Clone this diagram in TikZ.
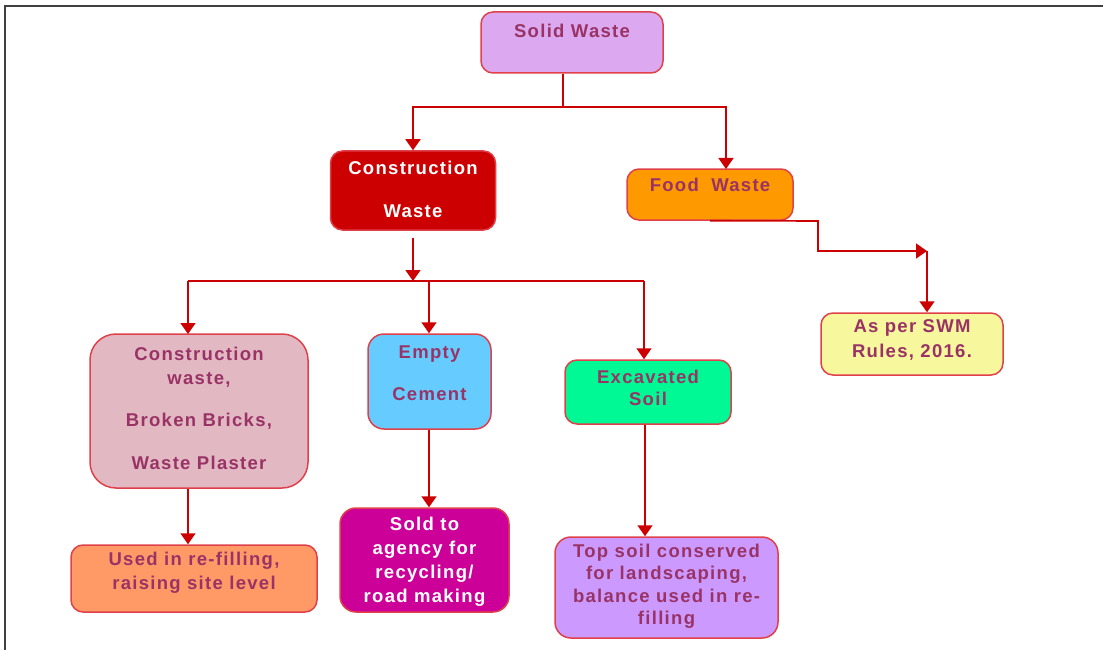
\documentclass[tikz,border=0pt]{standalone}
\usepackage{fontspec}
\setmainfont{Liberation Sans}[LetterSpace=7]
\usetikzlibrary{arrows.meta}
\definecolor{txtc}{HTML}{993366}
\definecolor{edgec}{HTML}{E0404A}
\definecolor{arrc}{HTML}{CC0000}
\definecolor{cSW}{HTML}{DCA8EF}
\definecolor{cCW}{HTML}{CC0000}
\definecolor{cFW}{HTML}{FF9900}
\definecolor{cPB}{HTML}{E2B8C2}
\definecolor{cEC}{HTML}{66CCFF}
\definecolor{cES}{HTML}{00F994}
\definecolor{cSWM}{HTML}{F7F79E}
\definecolor{cUR}{HTML}{FF9966}
\definecolor{cSO}{HTML}{CC0099}
\definecolor{cTS}{HTML}{CC99FF}
\definecolor{framec}{HTML}{404040}
\tikzset{
  box/.style={draw=edgec, line width=1.5pt, rounded corners=12pt, inner sep=0pt},
  txt/.style={font=\fontsize{18.5pt}{#1}\selectfont\bfseries, text=txtc, align=center, inner sep=0pt},
  wtxt/.style={txt=#1, text=white},
  conn/.style={draw=arrc, line width=1.6pt},
  arr/.style={conn, -{Triangle[width=15pt,length=11pt]}},
}
\begin{document}
\begin{tikzpicture}[x=1pt,y=-1pt]
\useasboundingbox (0,0) rectangle (1103,650);
\draw[framec, line width=2pt] (5,650) -- (5,6) -- (1103,6);

% boxes
\node[box, fill=cSW, minimum width=182pt, minimum height=61pt] (sw) at (572,42.5) {};
\node[box, fill=cCW, minimum width=165pt, minimum height=79pt] (cw) at (413,190.5) {};
\node[box, fill=cFW, minimum width=166pt, minimum height=51pt] (fw) at (710,194.5) {};
\node[box, fill=cPB, rounded corners=26pt, minimum width=218pt, minimum height=154pt] (pb) at (199,411) {};
\node[box, fill=cEC, rounded corners=16pt, minimum width=123pt, minimum height=95pt] (ec) at (429.5,381.5) {};
\node[box, fill=cES, minimum width=166pt, minimum height=64pt] (es) at (648,392) {};
\node[box, fill=cSWM, minimum width=182pt, minimum height=62pt] (swm) at (912,344) {};
\node[box, fill=cUR, minimum width=246pt, minimum height=67pt] (ur) at (194,578.5) {};
\node[box, fill=cSO, rounded corners=16pt, minimum width=169pt, minimum height=104pt] (so) at (424.5,560) {};
\node[box, fill=cTS, rounded corners=16pt, minimum width=223pt, minimum height=101pt] (ts) at (666.5,587.5) {};

% texts
\node[txt=24pt] (swt) at (572,31) {Solid Waste};
\node[wtxt=43pt] (cwt) at (413,189.5) {Construction\\Waste};
\node[txt=24pt] (fwt) at (710,185) {Food\hspace{6pt} Waste};
\node[txt=24pt] (pbt) at (199,408.5) {Construction\\waste,\\[18pt]Broken Bricks,\\[19pt]Waste Plaster};
\node[txt=42pt] (ect) at (429.5,373.5) {Empty\\Cement};
\node[txt=22pt] (est) at (648,387.5) {Excavated\\Soil};
\node[txt=25pt] (swmt) at (912,340) {As per SWM\\Rules, 2016.};
\node[txt=24pt] (urt) at (194,573) {Used in re-filling,\\raising site level};
\node[wtxt=24pt] (sot) at (424.5,561.5) {Sold to\\agency for\\recycling/\\road making};
\node[txt=22.5pt] (tst) at (666.5,586.5) {Top soil conserved\\for landscaping,\\balance used in re-\\filling};

% connectors
\coordinate (j1) at (563,107);
\draw[conn] (sw.south -| j1) -- (j1);
\draw[arr] (j1) -| (cw.north);
\draw[arr] (j1) -| (726,169);

\coordinate (j2) at (413,281);
\coordinate (cws) at (413,238);
\draw[arr] (cws) -- (j2);
\draw[conn] (188,281) -- (644,281);
\draw[arr] (188,281) -- (188,334) coordinate (pbn);
\draw[arr] (429,281) -- (ec.north -| 429,0);
\draw[arr] (644,281) -- (es.north -| 644,0);

\draw[arr] (pb.south -| 188,0) -- (ur.north -| 188,0);
\draw[arr] (ec.south -| 429,0) -- (so.north -| 429,0);
\draw[arr] (es.south -| 645,0) -- (ts.north -| 645,0);

\coordinate (fc) at (927,251);
\draw[arr] (fw.south) -- (818,221) -- (818,251) -- (fc);
\draw[arr] (fc) -- (swm.north -| fc);
\end{tikzpicture}
\end{document}
